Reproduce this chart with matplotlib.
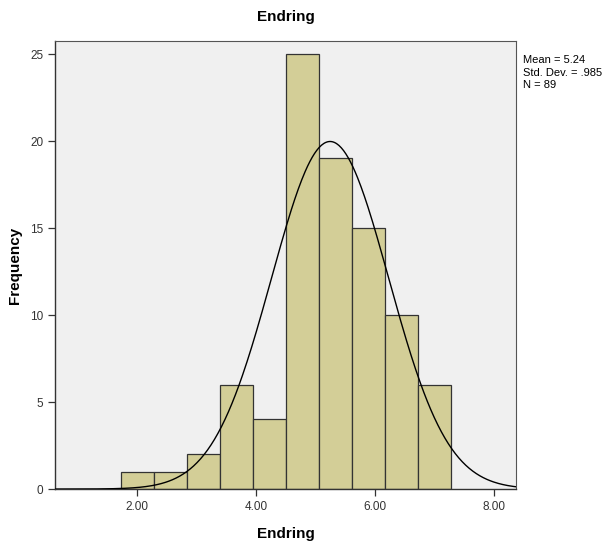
import numpy as np
import matplotlib
matplotlib.use("Agg")
import matplotlib.pyplot as plt

plt.rcParams["font.family"] = ["Liberation Sans", "DejaVu Sans"]

# histogram bins
bin_edges = [1.726, 2.280, 2.834, 3.388, 3.942, 4.496, 5.050, 5.604, 6.158, 6.712, 7.267]
counts = [1, 1, 2, 6, 4, 25, 19, 15, 10, 6]
mean, sd, n = 5.24, 0.985, 89
xticks = [2, 4, 6, 8]
xticklabels = ["2.00", "4.00", "6.00", "8.00"]
yticks = [0, 5, 10, 15, 20, 25]

fig = plt.figure(figsize=(6.14, 5.44), dpi=100)
ax = fig.add_axes([0.0896, 0.101, 0.7508, 0.824])
ax.set_facecolor("#F0F0F0")

widths = np.diff(bin_edges)
ax.bar(bin_edges[:-1], counts, width=widths, align="edge",
       color="#D3CE97", edgecolor="#333333", linewidth=0.9, zorder=2)

# normal curve scaled to counts
x = np.linspace(0.6, 8.4, 400)
bw = widths.mean()
y = n * bw / (sd * np.sqrt(2 * np.pi)) * np.exp(-0.5 * ((x - mean) / sd) ** 2)
ax.plot(x, y, color="black", lw=1.0, zorder=3)

ax.set_xlim(0.617, 8.365)
ax.set_ylim(0, 25.76)
ax.set_xticks(xticks)
ax.set_xticklabels(xticklabels)
ax.set_yticks(yticks)
ax.tick_params(direction="out", length=5, width=0.9, labelsize=8.5,
               labelcolor="#333333", color="#333333")
for side in ["left", "bottom"]:
    ax.spines[side].set_color("#333333")
    ax.spines[side].set_linewidth(1.0)
for side in ["top", "right"]:
    ax.spines[side].set_color("#555555")
    ax.spines[side].set_linewidth(0.8)

ax.set_title("Endring", fontsize=11, fontweight="bold", pad=14)
ax.set_xlabel("Endring", fontsize=11, fontweight="bold", labelpad=10)
ax.set_ylabel("Frequency", fontsize=11, fontweight="bold", labelpad=6)

fig.text(0.852, 0.898, f"Mean = {mean:.2f}\nStd. Dev. = .985\nN = {n}",
         fontsize=8, va="top", ha="left", linespacing=1.3)

fig.savefig("out.png", dpi=100)
